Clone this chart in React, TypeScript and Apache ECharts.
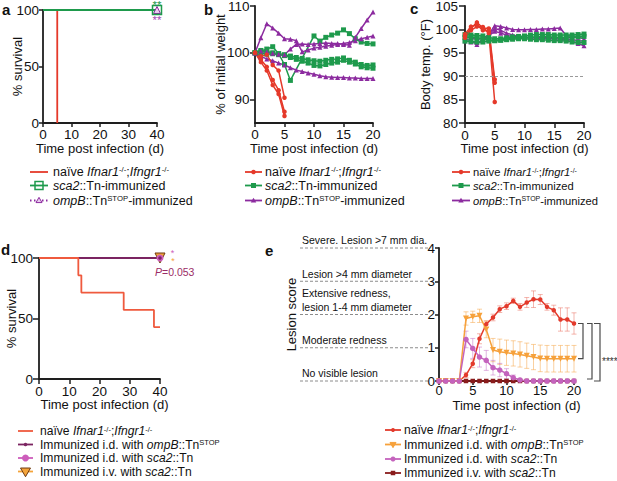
import React, { useEffect, useRef } from "react";
import * as echarts from "echarts";

const FONT = "'Liberation Sans', Arial, Helvetica, sans-serif";
const INK = "#111111";
const AXIS = "#1e1e1e";

// colours
const RED = "#e5392a";
const GREEN = "#1e9a4c";
const PURPLE = "#8c2b9f";
const D_RED = "#ef5a3e";
const D_PURPLE = "#7b2461";
const D_PINK = "#cd5dbb";
const D_ORANGE = "#f4a43a";
const D_ORANGE_EDGE = "#6e3a12";
const E_RED = "#e33a2c";
const E_ORANGE = "#f6a13b";
const E_PINK = "#c463bd";
const E_DARK = "#8a1c1c";
const P_COLOR = "#9b2c66";

// font sizes
const FS_TICK = 13.5;
const FS_TITLE = 13;
const FS_LEG = 12.5;
const FS_LEG_C = 11.2;
const FS_LEG2 = 12.1;
const FS_LEVEL = 10.5;

// ---------- Panel a : survival (%) ----------
const survATicksX = [0, 10, 20, 30, 40];
const survATicksY = [0, 50, 100];
const survANaiveDays = [0, 5];
const survANaivePct = [100, 0];
const survASca2Days = [0, 40];
const survASca2Pct = [100, 100];
const survAOmpBDays = [0, 40];
const survAOmpBPct = [100, 100];

// ---------- Panel b : % of initial weight ----------
const weightTicksX = [0, 5, 10, 15, 20];
const weightTicksY = [90, 100, 110];
const weightMin = 85;
const naiveDays = [0, 1, 2, 3, 4, 5];
const days20 = [0, 1, 2, 3, 4, 5, 6, 7, 8, 9, 10, 11, 12, 13, 14, 15, 16, 17, 18, 19, 20];
const weightNaive1 = [100, 99.3, 99.6, 97.4, 96.2, 90.4];
const weightNaive2 = [100, 98.5, 97.0, 94.2, 92.0, 87.4];
const weightNaive3 = [100, 98.0, 96.2, 93.1, 91.2, 86.5];
const weightSca2aDays = [0, 1, 2, 3, 4, 5, 6, 10, 11, 12, 13, 14, 15, 16, 17, 18, 19, 20];
const weightSca2a = [100, 100.3, 100.8, 101.3, 99.8, 97.5, 94.1, 103.6, 102.5, 103.3, 103.8, 104.2, 104.9, 104.1, 103.0, 102.3, 102.0, 101.9];
const weightSca2b = [100, 100.5, 100.2, 100.0, 99.8, 99.6, 99.3, 99.0, 98.8, 98.5, 98.3, 98.2, 98.4, 98.6, 98.7, 98.9, 98.4, 98.0, 97.5, 97.3, 97.4];
const weightSca2c = [100, 100.0, 99.7, 99.8, 99.6, 99.4, 99.0, 98.6, 98.2, 97.8, 97.3, 97.2, 97.5, 97.8, 98.0, 98.4, 98.0, 97.6, 97.0, 96.8, 96.7];
const weightOmpBa = [100, 103.2, 106.2, 105.3, 104.2, 103.0, 102.9, 102.6, 100.2, 100.6, 101.0, 101.2, 101.4, 101.6, 101.8, 102.0, 102.2, 102.6, 103.0, 103.3, 103.6];
const weightOmpBb = [100, 100.4, 100.2, 99.9, 99.7, 99.6, 100.8, 101.8, 101.9, 101.8, 101.9, 102.0, 102.1, 102.0, 102.0, 101.8, 101.6, 103.3, 105.2, 107.0, 108.7];
const weightOmpBc = [100, 99.2, 98.7, 98.3, 97.8, 97.4, 96.8, 96.3, 96.0, 95.7, 95.4, 95.1, 94.9, 94.8, 94.7, 94.7, 94.6, 94.6, 94.5, 94.5, 94.5];

// ---------- Panel c : body temperature (F) ----------
const tempTicksY = [80, 85, 90, 95, 100, 105];
const tempThreshold = 90;
const tempNaive1 = [98.6, 100.2, 101.5, 100.3, 100.2, 89.3];
const tempNaive2 = [99.0, 100.6, 101.0, 99.8, 99.6, 88.6];
const tempNaive3 = [98.2, 99.8, 100.6, 100.5, 99.2, 84.5];
const tempSca2a = [98.9, 98.8, 98.7, 98.6, 98.3, 98.0, 98.0, 98.2, 98.4, 98.5, 98.6, 98.8, 98.9, 98.9, 98.9, 98.8, 98.8, 98.8, 98.8, 98.9, 99.0];
const tempSca2b = [98.3, 98.4, 98.2, 98.0, 97.8, 97.6, 97.7, 97.9, 98.1, 98.2, 98.3, 98.4, 98.4, 98.5, 98.4, 98.3, 98.2, 98.2, 98.3, 98.4, 98.5];
const tempSca2c = [97.5, 97.4, 97.3, 97.3, 97.5, 97.6, 97.7, 97.8, 97.9, 98.0, 98.0, 97.9, 97.8, 97.8, 97.7, 97.6, 97.6, 97.5, 97.3, 97.2, 97.2];
const tempOmpBa = [98.0, 97.6, 96.8, 97.8, 99.0, 100.8, 100.6, 100.3, 100.0, 99.9, 99.9, 100.0, 100.0, 100.1, 100.1, 100.2, 100.3, 98.7, 98.5, 98.3, 98.0];
const tempOmpBb = [97.6, 97.3, 97.2, 97.5, 98.8, 100.2, 99.8, 99.2, 98.8, 98.5, 98.3, 98.2, 98.1, 98.1, 98.0, 98.0, 97.9, 97.7, 97.4, 97.0, 96.5];
const tempOmpBc = [98.4, 98.1, 97.9, 98.0, 98.6, 99.6, 99.2, 98.8, 98.4, 98.3, 98.2, 98.2, 98.3, 98.4, 98.3, 98.2, 98.1, 98.0, 97.8, 97.6, 97.5];

// ---------- Panel d : survival (%) ----------
const survDNaiveDays = [0, 13, 14, 28, 38, 40];
const survDNaivePct = [100, 85.7, 71.4, 57.1, 42.9, 42.9];
const survDImmDays = [0, 40];
const survDOmpBPct = [100, 100];
const survDSca2IdPct = [100, 100];
const survDSca2IvPct = [100, 100];

// ---------- Panel e : lesion score ----------
const lesionTicksY = [0, 1, 2, 3, 4];
const lesionNaive = [0, 0, 0, 0, 0.18, 0.52, 1.27, 1.71, 1.91, 2.16, 2.25, 2.41, 2.23, 2.36, 2.46, 2.45, 2.23, 2.13, 1.85, 1.85, 1.73];
const lesionNaiveErr = [0, 0, 0, 0, 0.08, 0.12, 0.15, 0.1, 0.1, 0.1, 0.1, 0.08, 0.1, 0.15, 0.25, 0.15, 0.1, 0.15, 0.35, 0.35, 0.32];
const lesionOmpB = [0, 0, 0, 0, 1.88, 1.93, 1.96, 1.55, 0.93, 0.88, 0.85, 0.83, 0.8, 0.76, 0.72, 0.68, 0.67, 0.67, 0.67, 0.67, 0.67];
const lesionOmpBErr = [0, 0, 0, 0, 0.2, 0.17, 0.2, 0.25, 0.35, 0.38, 0.38, 0.38, 0.38, 0.38, 0.38, 0.4, 0.4, 0.4, 0.4, 0.4, 0.4];
const lesionSca2Id = [0, 0, 0, 0, 1.25, 0.98, 0.72, 0.62, 0.4, 0.33, 0.22, 0.1, 0.03, 0, 0, 0, 0, 0, 0, 0, 0];
const lesionSca2IdErr = [0, 0, 0, 0, 0.25, 0.3, 0.3, 0.3, 0.22, 0.2, 0.15, 0.08, 0.03, 0, 0, 0, 0, 0, 0, 0, 0];
const lesionSca2Iv = [0, 0, 0, 0, 0, 0, 0, 0, 0, 0, 0, 0, 0, 0, 0, 0, 0, 0, 0, 0, 0];
const lesionLevelLabels = [
  "No visible lesion",
  "Moderate redness",
  "Extensive redness,\nlesion 1-4 mm diameter",
  "Lesion >4 mm diameter",
  "Severe. Lesion >7 mm dia.",
];

// legend texts (rich)
const T_NAIVE = "{t|naïve }{i|Ifnar1}{s|-/-}{t|;}{i|Ifngr1}{s|-/-}";
const T_SCA2 = "{i|sca2}{t|::Tn-immunized}";
const T_OMPB = "{i|ompB}{t|::Tn}{s|STOP}{t|-immunized}";
const T_ID_OMPB = "{t|Immunized i.d. with }{i|ompB}{t|::Tn}{s|STOP}";
const T_ID_SCA2 = "{t|Immunized i.d. with }{i|sca2}{t|::Tn}";
const T_IV_SCA2 = "{t|Immunized i.v. with }{i|sca2}{t|::Tn}";

const zip = (xs: number[], ys: number[]) => xs.map((x, i) => [x, ys[i]]);
const step = (t: number[]) => t[1] - t[0];

function line(gi: number, data: any[], color: string, symbol: string, size: number, o: any = {}) {
  return {
    type: "line",
    xAxisIndex: gi,
    yAxisIndex: gi,
    data,
    clip: false,
    silent: true,
    symbol,
    symbolSize: size,
    symbolRotate: o.rotate || 0,
    showSymbol: symbol !== "none",
    step: o.step || false,
    lineStyle: { color, width: o.width || 1.5, type: o.dash || "solid" },
    itemStyle: {
      color: o.fill || color,
      borderColor: o.edge || color,
      borderWidth: o.edgeWidth || 0,
    },
    emphasis: { disabled: true },
    z: o.z || 2,
    markLine: o.markLine,
  };
}

function endMarked(xs: number[], ys: number[], symbol: string) {
  return xs.map((x, i) => ({ value: [x, ys[i]], symbol: i === xs.length - 1 ? symbol : "none" }));
}

function errSeries(gi: number, xs: number[], mean: number[], err: number[], color: string) {
  const data = xs
    .map((x, i) => [x, mean[i] - err[i], mean[i] + err[i], err[i]])
    .filter((r) => r[3] > 0);
  return {
    type: "custom",
    xAxisIndex: gi,
    yAxisIndex: gi,
    silent: true,
    clip: false,
    z: 1,
    data,
    encode: { x: 0, y: [1, 2] },
    renderItem: (_p: any, api: any) => {
      const x = api.value(0);
      const lo = api.coord([x, api.value(1)]);
      const hi = api.coord([x, api.value(2)]);
      const w = 2.5;
      const st = { stroke: color, lineWidth: 1 };
      return {
        type: "group",
        children: [
          { type: "line", shape: { x1: lo[0], y1: lo[1], x2: hi[0], y2: hi[1] }, style: st },
          { type: "line", shape: { x1: hi[0] - w, y1: hi[1], x2: hi[0] + w, y2: hi[1] }, style: st },
          { type: "line", shape: { x1: lo[0] - w, y1: lo[1], x2: lo[0] + w, y2: lo[1] }, style: st },
        ],
      };
    },
  };
}

function axis(gi: number, o: any) {
  return {
    type: "value",
    gridIndex: gi,
    min: o.min,
    max: o.max,
    interval: o.interval,
    name: o.name,
    nameLocation: "middle",
    nameGap: o.nameGap,
    nameMoveOverlap: false,
    nameTextStyle: { color: INK, fontSize: FS_TITLE, fontFamily: FONT, padding: o.namePadding || 0 },
    axisLine: { show: true, onZero: false, lineStyle: { color: AXIS, width: 1.8 } },
    axisTick: {
      show: true,
      length: o.tick || 4,
      lineStyle: { color: AXIS, width: 1.5 },
      customValues: o.custom,
    },
    axisLabel: {
      color: INK,
      fontSize: o.fontSize || FS_TICK,
      fontFamily: FONT,
      margin: o.margin || 5,
      customValues: o.custom,
    },
    splitLine: { show: false },
  };
}

const richFor = (fs: number) => ({
  t: { fontSize: fs, fontFamily: FONT, fill: INK },
  i: { fontSize: fs, fontFamily: FONT, fill: INK, fontStyle: "italic" },
  s: { fontSize: fs * 0.62, fontFamily: FONT, fill: INK, verticalAlign: "top" },
});

function txt(x: number, y: number, text: string, o: any = {}) {
  return {
    type: "text",
    x,
    y,
    silent: true,
    style: {
      text,
      fill: o.fill || INK,
      fontSize: o.fontSize || 12,
      fontFamily: FONT,
      fontWeight: o.bold ? "bold" : "normal",
      fontStyle: o.italic ? "italic" : "normal",
      textAlign: o.align || "left",
      align: o.align || "left",
      textVerticalAlign: o.valign || "middle",
      verticalAlign: o.valign || "middle",
      lineHeight: o.lineHeight,
      rich: o.rich,
    },
  };
}

function markerEl(kind: string, cx: number, cy: number, color: string, s: number, fill?: string, edge?: string) {
  const h = s * 0.87;
  const base = { silent: true };
  if (kind === "dot" || kind === "circle")
    return { type: "circle", ...base, shape: { cx, cy, r: s / 2 }, style: { fill: fill || color } };
  if (kind === "square")
    return { type: "rect", ...base, shape: { x: cx - s / 2, y: cy - s / 2, width: s, height: s }, style: { fill: fill || color } };
  if (kind === "hollowSquare")
    return {
      type: "rect",
      ...base,
      shape: { x: cx - s / 2, y: cy - s / 2, width: s, height: s },
      style: { fill: "rgba(255,255,255,0)", stroke: color, lineWidth: 1.5 },
    };
  if (kind === "triangle" || kind === "hollowTriangle")
    return {
      type: "polygon",
      ...base,
      shape: { points: [[cx, cy - h * 0.6], [cx + s / 2, cy + h * 0.4], [cx - s / 2, cy + h * 0.4]] },
      style: kind === "triangle" ? { fill: color } : { fill: fill || "#fff", stroke: color, lineWidth: 1 },
    };
  if (kind === "triDown")
    return {
      type: "polygon",
      ...base,
      shape: { points: [[cx, cy + h * 0.6], [cx + s / 2, cy - h * 0.4], [cx - s / 2, cy - h * 0.4]] },
      style: { fill: fill || color, stroke: edge || color, lineWidth: 1 },
    };
  return null;
}

function legend(x0: number, x1: number, textX: number, fs: number, rows: any[]) {
  const out: any[] = [];
  rows.forEach((r) => {
    out.push({
      type: "line",
      silent: true,
      shape: { x1: x0, y1: r.y, x2: x1, y2: r.y },
      style: { stroke: r.color, lineWidth: 1.8, lineDash: r.dash || null },
    });
    const m = markerEl(r.marker, (x0 + x1) / 2, r.y, r.color, r.size, r.fill, r.edge);
    if (m) out.push(m);
    out.push(txt(textX, r.y, r.text, { fontSize: fs, rich: richFor(fs) }));
  });
  return out;
}

function buildOption() {
  const grid = [
    { left: 43, top: 10, width: 114, height: 113 },
    { left: 255, top: 6, width: 118, height: 117 },
    { left: 465, top: 6, width: 119, height: 117 },
    { left: 39, top: 258, width: 121, height: 121 },
    { left: 439, top: 248, width: 135, height: 133 },
  ].map((g) => ({ ...g, outerBoundsMode: "none" }));

  const xT = "Time post infection (d)";
  const xAxis = [
    axis(0, { min: survATicksX[0], max: survATicksX[survATicksX.length - 1], interval: step(survATicksX), name: xT, nameGap: 19, margin: 4 }),
    axis(1, { min: weightTicksX[0], max: weightTicksX[weightTicksX.length - 1], interval: step(weightTicksX), name: xT, nameGap: 19, margin: 4.5 }),
    axis(2, { min: weightTicksX[0], max: weightTicksX[weightTicksX.length - 1], interval: step(weightTicksX), name: xT, nameGap: 19, margin: 5, tick: 5 }),
    axis(3, { min: survATicksX[0], max: survATicksX[survATicksX.length - 1], interval: step(survATicksX), name: xT, nameGap: 19, margin: 5, tick: 5, namePadding: [0, 0, 0, 10] }),
    axis(4, { min: weightTicksX[0], max: weightTicksX[weightTicksX.length - 1], interval: step(weightTicksX), name: xT, nameGap: 18, margin: 2.5, fontSize: 13, namePadding: [0, 0, 0, 20] }),
  ];
  const yAxis = [
    axis(0, { min: survATicksY[0], max: survATicksY[survATicksY.length - 1], interval: step(survATicksY), name: "% survival", nameGap: 19, margin: 4 }),
    axis(1, { min: weightMin, max: weightTicksY[weightTicksY.length - 1], custom: weightTicksY, name: "% of initial weight", nameGap: 28, margin: 5.5, tick: 5 }),
    axis(2, { min: tempTicksY[0], max: tempTicksY[tempTicksY.length - 1], interval: step(tempTicksY), name: "Body temp. (°F)", nameGap: 33, margin: 7, tick: 6 }),
    axis(3, { min: survATicksY[0], max: survATicksY[survATicksY.length - 1], interval: step(survATicksY), name: "% survival", nameGap: 21, margin: 6, tick: 6 }),
    axis(4, { min: lesionTicksY[0], max: lesionTicksY[lesionTicksY.length - 1], interval: step(lesionTicksY), name: "Lesion score", nameGap: 141, margin: 4 }),
  ];

  const series: any[] = [
    // a
    line(0, zip(survANaiveDays, survANaivePct), RED, "none", 0, { step: "end", width: 1.8 }),
    line(0, endMarked(survAOmpBDays, survAOmpBPct, "triangle"), PURPLE, "triangle", 7, {
      dash: [1.5, 2],
      fill: "#e9cdee",
      edge: PURPLE,
      edgeWidth: 1,
    }),
    line(0, endMarked(survASca2Days, survASca2Pct, "rect"), GREEN, "rect", 9, {
      width: 1.8,
      fill: "rgba(255,255,255,0)",
      edge: GREEN,
      edgeWidth: 1.5,
    }),
    // b
    line(1, zip(weightSca2aDays, weightSca2a), GREEN, "rect", 5),
    line(1, zip(days20, weightSca2b), GREEN, "rect", 5),
    line(1, zip(days20, weightSca2c), GREEN, "rect", 5),
    line(1, zip(days20, weightOmpBa), PURPLE, "triangle", 5),
    line(1, zip(days20, weightOmpBb), PURPLE, "triangle", 5),
    line(1, zip(days20, weightOmpBc), PURPLE, "triangle", 5),
    line(1, zip(naiveDays, weightNaive1), RED, "circle", 4.5),
    line(1, zip(naiveDays, weightNaive2), RED, "circle", 4.5),
    line(1, zip(naiveDays, weightNaive3), RED, "circle", 4.5),
    // c
    line(2, zip(days20, tempOmpBa), PURPLE, "triangle", 5),
    line(2, zip(days20, tempOmpBb), PURPLE, "triangle", 5),
    line(2, zip(days20, tempOmpBc), PURPLE, "triangle", 5),
    line(2, zip(days20, tempSca2a), GREEN, "rect", 5, {
      markLine: {
        silent: true,
        symbol: ["none", "none"],
        label: { show: false },
        lineStyle: { color: "#9a9a9a", type: [3, 2], width: 1 },
        data: [{ yAxis: tempThreshold }],
      },
    }),
    line(2, zip(days20, tempSca2b), GREEN, "rect", 5),
    line(2, zip(days20, tempSca2c), GREEN, "rect", 5),
    line(2, zip(naiveDays, tempNaive1), RED, "circle", 4.5),
    line(2, zip(naiveDays, tempNaive2), RED, "circle", 4.5),
    line(2, zip(naiveDays, tempNaive3), RED, "circle", 4.5),
    // d
    line(3, endMarked(survDImmDays, survDSca2IvPct, "triangle"), D_ORANGE, "triangle", 10, {
      rotate: 180,
      fill: D_ORANGE,
      edge: D_ORANGE_EDGE,
      edgeWidth: 1,
    }),
    line(3, endMarked(survDImmDays, survDSca2IdPct, "circle"), D_PINK, "circle", 7),
    line(3, endMarked(survDImmDays, survDOmpBPct, "circle"), D_PURPLE, "circle", 3.5, { width: 1.8 }),
    line(3, zip(survDNaiveDays, survDNaivePct), D_RED, "none", 0, { step: "end", width: 1.8 }),
    // e
    errSeries(4, days20, lesionNaive, lesionNaiveErr, "rgba(235,120,105,0.55)"),
    errSeries(4, days20, lesionOmpB, lesionOmpBErr, "rgba(246,170,80,0.55)"),
    errSeries(4, days20, lesionSca2Id, lesionSca2IdErr, "rgba(200,120,200,0.55)"),
    line(4, zip(days20, lesionSca2Iv), E_DARK, "rect", 4.5),
    line(4, zip(days20, lesionNaive), E_RED, "circle", 4.5),
    line(4, zip(days20, lesionOmpB), E_ORANGE, "triangle", 6, { rotate: 180 }),
    line(4, zip(days20, lesionSca2Id), E_PINK, "circle", 5.5),
  ];

  return {
    animation: false,
    backgroundColor: "#ffffff",
    textStyle: { fontFamily: FONT },
    grid,
    xAxis,
    yAxis,
    series,
  };
}

function buildGraphic(chart: any) {
  const px = (gi: number, pt: number[]) =>
    chart.convertToPixel({ xAxisIndex: gi, yAxisIndex: gi }, pt) as number[];
  const els: any[] = [];

  // panel letters
  els.push(txt(2, 9, "a", { fontSize: 15, bold: true }));
  els.push(txt(204, 9, "b", { fontSize: 15, bold: true }));
  els.push(txt(410, 8, "c", { fontSize: 15, bold: true }));
  els.push(txt(1, 249, "d", { fontSize: 15, bold: true }));
  els.push(txt(265, 250, "e", { fontSize: 15, bold: true }));

  // panel a significance
  const ma = px(0, [survASca2Days[1], survASca2Pct[1]]);
  els.push(txt(ma[0], ma[1] - 5.5, "**", { fontSize: 11.5, align: "center", fill: GREEN }));
  els.push(txt(ma[0], ma[1] + 9.5, "**", { fontSize: 11.5, align: "center", fill: "#a545b5" }));

  // panel d significance
  const md = px(3, [survDImmDays[1], survDOmpBPct[1]]);
  els.push(txt(md[0] + 12.5, md[1] - 5.5, "*", { fontSize: 9, align: "center", fill: D_PINK }));
  els.push(txt(md[0] + 13, md[1] + 3, "*", { fontSize: 9, align: "center", fill: D_ORANGE }));
  els.push(
    txt(md[0] - 5, md[1] + 14, "{pi|P}{p|=0.053}", {
      fontSize: 10.5,
      rich: {
        pi: { fontSize: 10.5, fontFamily: FONT, fill: P_COLOR, fontStyle: "italic" },
        p: { fontSize: 10.5, fontFamily: FONT, fill: P_COLOR },
      },
    })
  );

  // panel e lesion level guides
  lesionTicksY.forEach((lv, i) => {
    const y = px(4, [0, lv])[1];
    els.push({
      type: "line",
      silent: true,
      shape: { x1: 300, y1: y, x2: 428, y2: y },
      style: { stroke: "#8c8c8c", lineWidth: 1, lineDash: [3, 2] },
    });
    els.push(txt(302, y - 1, lesionLevelLabels[i], { fontSize: FS_LEVEL, valign: "bottom", lineHeight: 13.5 }));
  });

  // panel e brackets
  const last = days20.length - 1;
  const pTop = px(4, [days20[last], lesionNaive[last]]);
  const pMid = px(4, [days20[last], lesionOmpB[last]]);
  const pBot = px(4, [days20[last], lesionSca2Iv[last]]);
  const xr = pTop[0];
  const br = (xa: number, xb: number, y1: number, y2: number) => ({
    type: "polyline",
    silent: true,
    shape: { points: [[xa, y1], [xb, y1], [xb, y2], [xa, y2]] },
    style: { stroke: "#4a4a4a", lineWidth: 1.2, fill: null },
  });
  els.push(br(xr + 4, xr + 9, pTop[1], pMid[1]));
  els.push(br(xr + 13, xr + 18, pTop[1], pBot[1] - 2));
  els.push(br(xr + 20, xr + 26, pTop[1], pBot[1]));
  els.push(txt(xr + 28, (pTop[1] + pBot[1]) / 2 + 9, "****", { fontSize: 10, fill: "#333" }));

  // legends
  els.push(
    ...legend(30, 48, 53, FS_LEG, [
      { y: 172, color: RED, marker: "none", text: T_NAIVE },
      { y: 185.5, color: GREEN, marker: "hollowSquare", size: 8, text: T_SCA2 },
      { y: 200.5, color: PURPLE, marker: "hollowTriangle", size: 6, fill: "#e9cdee", dash: [1.5, 2.5], text: T_OMPB },
    ])
  );
  const bcRows = [
    { y: 172, color: RED, marker: "dot", size: 4.5, text: T_NAIVE },
    { y: 185.5, color: GREEN, marker: "square", size: 5, text: T_SCA2 },
    { y: 200.5, color: PURPLE, marker: "triangle", size: 5.5, text: T_OMPB },
  ];
  els.push(...legend(245, 262, 265, FS_LEG, bcRows));
  els.push(...legend(452, 470, 473, FS_LEG_C, bcRows));
  els.push(
    ...legend(18, 33, 40, FS_LEG2, [
      { y: 431, color: D_RED, marker: "none", text: T_NAIVE },
      { y: 444.5, color: D_PURPLE, marker: "dot", size: 3.5, text: T_ID_OMPB },
      { y: 458, color: D_PINK, marker: "circle", size: 7, text: T_ID_SCA2 },
      { y: 471.5, color: D_ORANGE, marker: "triDown", size: 10, fill: D_ORANGE, edge: D_ORANGE_EDGE, text: T_IV_SCA2 },
    ])
  );
  els.push(
    ...legend(385, 401, 404, FS_LEG2, [
      { y: 430, color: E_RED, marker: "dot", size: 4, text: T_NAIVE },
      { y: 444.5, color: E_ORANGE, marker: "triDown", size: 6, text: T_ID_OMPB },
      { y: 459, color: E_PINK, marker: "circle", size: 5, text: T_ID_SCA2 },
      { y: 473, color: E_DARK, marker: "square", size: 4.5, text: T_IV_SCA2 },
    ])
  );
  return els;
}

export default function App() {
  const ref = useRef<HTMLDivElement>(null);
  useEffect(() => {
    if (!ref.current) return;
    const chart = echarts.init(ref.current, undefined, { renderer: "svg", width: 617, height: 481 });
    chart.setOption(buildOption() as any);
    chart.setOption({ graphic: { elements: buildGraphic(chart) } } as any);
    return () => chart.dispose();
  }, []);
  return (
    <div
      ref={ref}
      style={{ position: "absolute", left: 0, top: 0, width: 617, height: 481, background: "#fff" }}
    />
  );
}
